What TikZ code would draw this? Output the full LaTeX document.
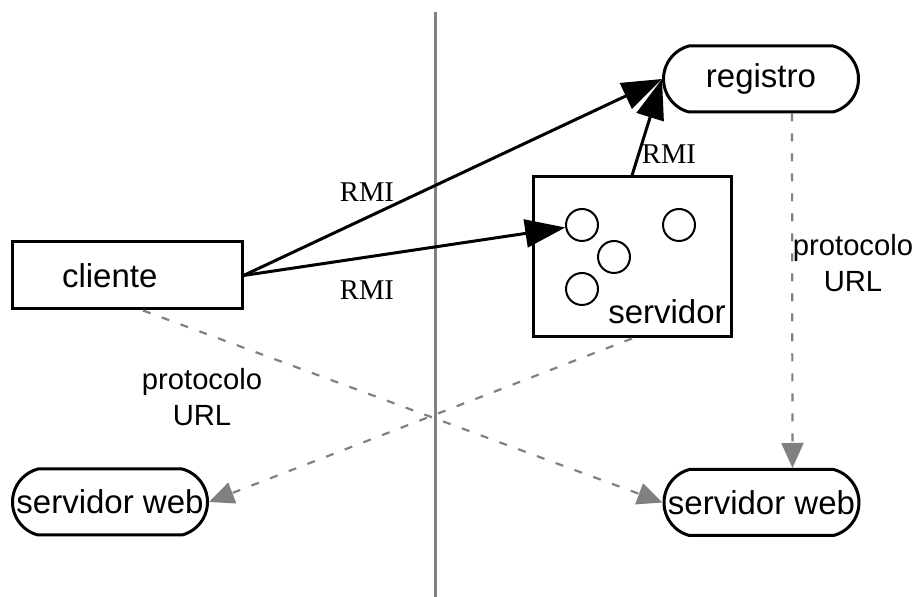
\documentclass[tikz,border=0pt]{standalone}
\usepackage{fontspec}
\setmainfont{Liberation Sans}
\newfontfamily\rmifont{Liberation Serif}
\usetikzlibrary{shapes.misc,arrows.meta}

\begin{document}
\begin{tikzpicture}[x=0.5pt,y=-0.5pt,
    every node/.style={font=\fontsize{16.5}{18}\selectfont},
    caixa/.style={draw,line width=1.5pt,inner sep=0pt},
    pilula/.style={draw,rounded rectangle,rounded rectangle arc length=150,
      line width=1.5pt,minimum width=97.5pt,minimum height=33pt,inner sep=0pt},
    objeto/.style={draw,circle,line width=1pt,minimum size=16pt,inner sep=0pt},
    rmi/.style={font=\rmifont\fontsize{14.3}{16}\selectfont},
    proto/.style={align=center,font=\fontsize{14.6}{18}\selectfont},
    chamada/.style={line width=1.5pt,-{Triangle[length=20pt,width=14pt]}},
    url/.style={gray,line width=1.1pt,dash pattern=on 4pt off 6pt,
      -{Triangle[length=12.5pt,width=11pt]}}]
  \useasboundingbox (0,0) rectangle (916,597);
  \draw[gray,line width=1.5pt] (435,12) -- (435,597);
  \draw
    (127,275.5) node[caixa,align=left,text width=65pt,inner xsep=25pt,
      minimum height=33.5pt] (cliente){cliente}
    (761,79) node[pilula] (registro){registro}
    (632,257) node[caixa,minimum width=99pt,minimum height=80pt] (servidor){}
    (582,225) node[objeto] (obj1){}
    (679,225) node[objeto] (obj2){}
    (614,257) node[objeto] (obj3){}
    (582,289) node[objeto] (obj4){}
    (667,312) node (servtxt){servidor}
    (110,502) node[pilula] (webesq){servidor web}
    (761.5,502.5) node[pilula] (webdir){servidor web}
    (367,192) node[rmi] (rmi1){RMI}
    (367,290.5) node[rmi] (rmi2){RMI}
    (669,154) node[rmi] (rmi3){RMI}
    (202,397) node[proto] (proto1){protocolo\\URL}
    (853,263) node[proto] (proto2){protocolo\\URL};
  \begin{scope}[chamada]
    \draw (cliente.east) to (registro.west);
    \draw (cliente.east) to (obj1);
    \draw (servidor.north) to (registro.west);
  \end{scope}
  \begin{scope}[url]
    \draw ([xshift=8pt]cliente.south) to (webdir.west);
    \draw (servidor.south) to (webesq.east);
    \draw ([xshift=15.5pt]registro.south) to ([xshift=15.5pt]webdir.north);
  \end{scope}
\end{tikzpicture}
\end{document}
